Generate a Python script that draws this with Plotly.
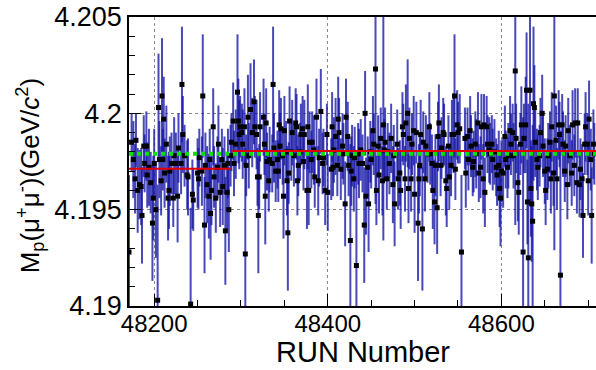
import plotly.graph_objects as go

# ---- data ----
runs = [
    48171,48174,48176,48178,48179,48181,48183,48185,48186,48188,48189,48191,48192,48194,48196,48198,48199,48200,48202,48204,
    48205,48206,48208,48209,48211,48210,48212,48214,48216,48217,48218,48220,48222,48223,48225,48227,48228,48231,48232,48233,
    48235,48238,48239,48242,48244,48245,
    48250,48251,48252,48255,48256,48258,48259,48261,48263,48264,48265,48266,48268,48269,48271,48273,48274,48276,48278,48279,
    48281,48282,48284,48285,48286,48288,48289,48291,48292,48294,48296,48297,48298,48299,48301,48302,48304,48305,48306,48308,
    48309,48311,48313,48315,48316,48318,48319,48320,48321,48322,
    48326,48327,48328,48329,48330,48332,48333,48336,48337,48338,48340,48342,48343,48344,48345,48346,48348,48349,48350,48352,
    48353,48354,48355,48356,48358,48359,48361,48363,48364,48365,48366,48368,48369,48371,48372,48373,48376,48377,48378,48379,
    48381,48382,48384,48385,48387,48389,48390,48392,48394,48395,48397,48399,48400,
    48404,48405,48406,48407,48409,48411,48412,48413,48415,48417,48418,48420,48421,48423,48424,48426,48427,48428,48430,48431,
    48433,48435,48436,48438,48440,48442,48443,48444,48446,48447,48449,48450,48452,48453,48455,48456,48458,48459,48461,48463,
    48464,48465,48466,48468,48469,48471,48473,48475,48476,48477,
    48480,48481,48483,48484,48486,48487,48489,48490,48492,48493,48494,48496,48497,48499,48500,48502,48504,48505,48506,48507,
    48509,48510,48512,48513,48515,48517,48518,48520,48521,48523,48524,48526,48527,48528,48530,48531,48533,48534,48536,48537,
    48539,48540,48542,48543,48545,48546,48547,48549,48550,48552,48554,
    48558,48559,48561,48562,48564,48565,48567,48568,48570,48571,48573,48574,48576,48577,48579,48580,48581,48583,48584,48586,
    48587,48589,48590,48592,48594,48595,48597,48598,48599,48600,48602,48604,48605,48607,48608,48610,48611,48613,48614,48616,
    48617,48619,48620,48622,48623,48625,48626,48628,48629,48630,48631,
    48633,48634,48635,48636,48637,48638,48639,48641,48642,48644,48645,48647,48648,48650,48651,48653,48654,48656,48657,48658,
    48660,48661,48663,48664,48666,48667,48668,48670,48671,48673,48674,48676,48677,48679,48681,48682,48684,48685,48687,48688,
    48690,48691,48693,48694,48696,48697,48699,48700,48701,48703,48704,48706,48707,
]

mass = [
    4.1928,4.1985,4.1976,4.1966,4.1986,4.1960,4.1963,4.1962,4.1947,4.1983,4.1974,4.1983,4.1968,4.1972,4.1964,4.1943,4.1956,4.1974,4.1950,4.1903,
    4.2003,4.1976,4.1965,4.2009,4.1997,4.1976,4.1969,4.1984,4.1956,4.1960,4.1970,4.1974,4.1956,4.1978,4.1974,4.1957,4.1982,4.1974,4.2015,4.1989,
    4.1978,4.1968,4.1967,4.1901,4.1958,4.1955,
    4.1969,4.1966,4.1977,4.1970,4.2009,4.1942,4.1973,4.1963,4.1957,4.1976,4.1948,4.1960,4.1993,4.1967,4.1956,4.1972,4.1984,4.1959,4.1976,4.1962,
    4.1973,4.1939,4.1959,4.1974,4.1950,4.1978,4.1985,4.1996,4.1974,4.1984,4.2011,4.1996,4.1989,4.1993,4.1990,4.1984,4.1993,4.1927,4.1973,4.1998,
    4.1978,4.2002,4.1990,4.2006,4.1993,4.1989,4.1967,4.1947,4.1967,4.1993,
    4.1998,4.1984,4.1957,4.1995,4.1975,4.1965,4.1976,4.1974,4.2015,4.1982,4.1970,4.1976,4.1970,4.1994,4.1983,4.1992,4.1978,4.1957,4.1991,4.1980,
    4.1965,4.1938,4.1969,4.1996,4.1980,4.1990,4.1978,4.1995,4.1993,4.1965,4.1973,4.1980,4.1989,4.1992,4.1975,4.1989,4.1960,4.1993,4.1960,4.1985,
    4.1976,4.1985,4.1981,4.1967,4.1998,4.1965,4.1977,4.2001,4.1974,4.1977,4.1960,4.1989,4.1959,
    4.1971,4.1993,4.1972,4.1981,4.1988,4.1973,4.1997,4.1990,4.1971,4.1983,4.1979,4.1953,4.1998,4.1988,4.1973,4.1934,4.1970,4.1978,4.1966,4.1977,
    4.1921,4.1979,4.1974,4.1981,4.1974,4.1942,4.2000,4.1957,4.1972,4.1953,4.1980,4.1976,4.1991,4.1984,4.2023,4.1960,4.1983,4.1968,4.1987,4.1965,
    4.1994,4.1981,4.1985,4.1966,4.1980,4.1974,4.1987,4.1963,4.1978,4.1953,
    4.1984,4.1966,4.1969,4.1960,4.1993,4.1989,4.1966,4.1995,4.2000,4.1961,4.1987,4.1966,4.1984,4.1991,4.1958,4.1990,4.1943,4.1966,4.1973,4.1989,
    4.1940,4.1985,4.1966,4.1983,4.1979,4.1993,4.1979,4.1974,4.1960,4.1954,4.1973,4.1951,4.1988,4.1995,4.1973,4.1982,4.1990,4.1989,4.1965,4.1961,
    4.1983,4.1967,4.1973,4.1989,4.1989,4.2009,4.1971,4.1994,4.1990,4.1992,4.1928,
    4.1987,4.1969,4.1988,4.1976,4.1991,4.1983,4.1972,4.1975,4.1984,4.1979,4.1995,4.1969,4.1972,4.1993,4.1966,4.1994,4.1959,4.1993,4.1984,4.1981,
    4.1979,4.1984,4.1976,4.1980,4.1972,4.1968,4.1973,4.1961,4.1956,4.1970,4.1969,4.1988,4.1976,4.1972,4.1978,4.1991,4.1984,4.1990,4.1978,4.2022,
    4.1987,4.1964,4.1959,4.1984,4.1994,4.1928,4.1987,4.1994,4.2012,4.1954,4.1925,
    4.2012,4.1961,4.1953,4.1944,4.2005,4.2003,4.1985,4.1976,4.1972,4.1978,4.1990,4.2000,4.1983,4.1970,4.1960,4.1971,4.1978,4.1985,4.1966,4.1993,
    4.1969,4.2009,4.1986,4.1966,4.1994,4.1989,4.1916,4.1994,4.1984,4.1970,4.1983,4.1963,4.1991,4.1978,4.1969,4.1994,4.1973,4.1995,4.1964,4.1995,
    4.1963,4.1971,4.1966,4.1947,4.1984,4.1993,4.1984,4.1965,4.1997,4.1976,4.1947,4.1984,4.1979,
]

# errors in units of 1e-4 GeV/c^2
err_e4 = [
    40,15,20,18,14,22,18,20,25,16,15,18,17,20,16,30,22,18,25,60,28,20,18,30,22,16,18,20,22,20,18,16,15,20,16,24,18,16,30,20,
    16,18,20,50,18,16,
    18,16,15,18,32,25,17,20,22,16,24,18,20,16,18,16,20,18,16,20,15,28,20,18,22,16,15,20,17,18,30,22,18,16,15,18,20,55,16,22,
    17,24,18,22,16,18,15,30,17,18,
    20,16,25,18,15,16,17,15,30,18,16,15,16,18,17,16,15,22,18,16,18,30,16,18,15,17,16,18,17,18,16,15,16,17,15,18,20,22,18,16,
    15,16,18,16,20,18,15,22,16,15,18,16,20,
    16,18,15,17,20,16,22,18,16,17,16,22,20,18,16,50,18,16,17,16,60,16,18,16,15,30,22,20,16,25,16,15,18,16,70,18,16,20,16,18,
    60,16,18,16,15,16,18,20,16,22,
    18,16,17,20,18,16,17,20,28,18,16,17,16,18,20,16,30,18,16,18,32,16,17,16,15,18,16,15,20,22,16,24,18,20,16,16,18,16,18,20,
    16,17,16,18,20,32,16,18,16,18,40,
    16,18,15,16,18,16,15,16,17,18,16,15,16,17,18,16,18,16,15,17,16,15,16,17,15,16,18,20,25,16,18,16,15,16,17,18,16,15,17,80,
    18,20,22,16,20,70,18,25,30,22,80,
    60,25,30,50,40,22,18,16,17,16,18,20,16,17,18,16,17,16,18,18,17,80,18,16,18,17,75,16,17,16,16,18,17,16,17,18,16,18,16,18,
    17,16,18,22,16,18,16,18,20,16,25,18,16,
]

fit1_runs = [48171, 48288]
fit1_mass = [4.19712, 4.19712]
fit2_runs = [48290, 48709]
fit2_mass = [4.19805, 4.19805]
mean_runs = [48171, 48709]
mean_mass = [4.19790, 4.19790]

x_ticks = [48200, 48400, 48600]
x_ticklabels = ["48200", "48400", "48600"]
y_ticks = [4.19, 4.195, 4.2, 4.205]
y_ticklabels = ["4.19", "4.195", "4.2", "4.205"]

n = min(len(runs), len(mass), len(err_e4))
runs, mass, err = runs[:n], mass[:n], [e * 1e-4 for e in err_e4[:n]]

FONT = "Liberation Sans, Arial, Helvetica, sans-serif"

fig = go.Figure()
fig.add_trace(go.Scatter(
    x=runs, y=mass, mode="markers",
    marker=dict(symbol="square", size=5, color="black"),
    error_y=dict(type="data", array=err, visible=True, color="rgba(22,22,165,0.78)",
                 thickness=2, width=0),
    showlegend=False, cliponaxis=True,
))
fig.add_trace(go.Scatter(x=mean_runs, y=mean_mass, mode="lines",
                         line=dict(color="#00e600", width=4, dash="dot"), showlegend=False))
fig.add_trace(go.Scatter(x=fit1_runs, y=fit1_mass, mode="lines",
                         line=dict(color="#e00000", width=2), showlegend=False))
fig.add_trace(go.Scatter(x=fit2_runs, y=fit2_mass, mode="lines",
                         line=dict(color="#e00000", width=2), showlegend=False))

fig.update_layout(
    width=596, height=370,
    margin=dict(l=129, r=0, t=17, b=64),
    paper_bgcolor="white", plot_bgcolor="white",
    font=dict(family=FONT, color="black"),
)
fig.update_xaxes(
    range=[48171, 48709], tickvals=x_ticks, ticktext=x_ticklabels,
    tickfont=dict(size=24), ticks="inside", ticklen=12, tickcolor="black", tickwidth=1,
    ticklabelstandoff=-5,
    minor=dict(dtick=50, tick0=48200, ticks="inside", ticklen=6, tickcolor="black", showgrid=False),
    showline=True, linecolor="black", linewidth=1.5, mirror=True,
    showgrid=True, gridcolor="#888888", griddash="dot", gridwidth=1,
    zeroline=False, automargin=False,
)
fig.update_yaxes(
    range=[4.19, 4.205], tickvals=y_ticks, ticktext=y_ticklabels,
    tickfont=dict(size=27), ticks="inside", ticklen=12, tickcolor="black", tickwidth=1,
    minor=dict(dtick=0.001, tick0=4.19, ticks="inside", ticklen=6, tickcolor="black", showgrid=False),
    showline=True, linecolor="black", linewidth=1.5, mirror=True,
    showgrid=True, gridcolor="#888888", griddash="dot", gridwidth=1,
    zeroline=False, automargin=False,
)
fig.add_annotation(
    text="M<sub>p</sub>(μ<sup>+</sup>μ<sup>-</sup>)(GeV/<i>c</i><sup>2</sup>)",
    xref="paper", yref="paper", x=-0.212, y=0.452, xanchor="center", yanchor="middle",
    textangle=-90, showarrow=False, font=dict(size=26, family=FONT, color="black"),
)
fig.add_annotation(
    text="RUN Number",
    xref="paper", yref="paper", x=0.5, y=-0.158, xanchor="center", yanchor="middle",
    showarrow=False, font=dict(size=29, family=FONT, color="black"),
)

fig.write_html("out.html")
